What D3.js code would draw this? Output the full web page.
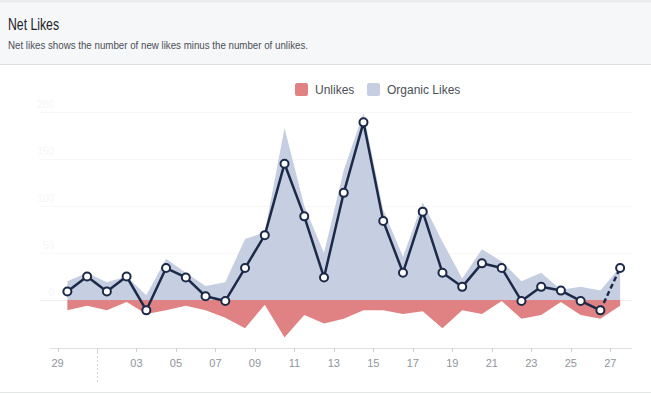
<!DOCTYPE html>
<html>
<head>
<meta charset="utf-8">
<script src="https://cdn.jsdelivr.net/npm/d3@7"></script>
<style>
  body { margin: 0; background: #fff; }
  svg { display: block; font-family: "Liberation Sans", Arial, sans-serif; }
</style>
</head>
<body>
<div id="chart"></div>
<script>
// one entry per day, 29 (prev month) .. 27
var days = ["29", "30", "01", "02", "03", "04", "05", "06", "07", "08", "09", "10", "11", "12", "13",
  "14", "15", "16", "17", "18", "19", "20", "21", "22", "23", "24", "25", "26", "27"];
var organicLikes = [20, 29, 19, 25, 5, 44, 29, 15, 19, 65, 72, 183, 100, 50, 138, 199, 96, 46, 104,
  62, 23, 54, 41, 20, 29, 11, 14, 10, 35];
var unlikes = [11, 6, 11, 2, 15, 11, 6, 11, 19, 30, 5, 40, 16, 25, 20, 11, 11, 15, 12, 30, 11, 15,
  1, 20, 16, 2, 16, 20, 6];
var netLikes = [9, 25, 9, 25, -11, 34, 24, 4, -1, 34, 69, 145, 89, 24, 114, 189, 84, 29, 94, 29, 14,
  39, 34, -1, 14, 10, -1, -11, 34];
var yTicks = [0, 50, 100, 150, 200];
var legendNames = ["Unlikes", "Organic Likes"];
var legendColors = ["#e08283", "#c6cee1"];

var W = 651, H = 394;
var svg = d3.select("#chart").append("svg").attr("width", W).attr("height", H);

// header panel
svg.append("rect").attr("x", 0).attr("y", 0).attr("width", W).attr("height", 64).style("fill", "#f6f7f9");
svg.append("rect").attr("x", 0).attr("y", 0).attr("width", W).attr("height", 2.5).style("fill", "#e9ebee");
svg.append("line").attr("x1", 0).attr("x2", W).attr("y1", 64.5).attr("y2", 64.5).style("stroke", "#dddfe2");
svg.append("text").attr("x", 8).attr("y", 30)
  .attr("textLength", 51).attr("lengthAdjust", "spacingAndGlyphs")
  .style("font-size", "16px").style("fill", "#1d2129").text("Net Likes");
svg.append("text").attr("x", 8).attr("y", 49)
  .attr("textLength", 300).attr("lengthAdjust", "spacingAndGlyphs")
  .style("font-size", "11.5px").style("fill", "#4b4f56")
  .text("Net likes shows the number of new likes minus the number of unlikes.");
svg.append("line").attr("x1", 0).attr("x2", W).attr("y1", 392.5).attr("y2", 392.5).style("stroke", "#e3e5e8");

var x = d3.scaleLinear().domain([0, days.length]).range([57.5, 630]);
var y = d3.scaleLinear().domain([-50, 200]).range([347, 112]);
var mid = function (i) { return x(i + 0.5); };

// faint grid + labels (almost invisible in the original)
svg.selectAll(".grid").data(yTicks).enter().append("line")
  .attr("x1", 40).attr("x2", 632)
  .attr("y1", function (d) { return Math.round(y(d)) + 0.5; })
  .attr("y2", function (d) { return Math.round(y(d)) + 0.5; })
  .style("stroke", function (d) { return d == 0 ? "#eceef1" : "#f8f8f9"; });
svg.selectAll(".ylab").data(yTicks).enter().append("text")
  .attr("x", 54).attr("y", function (d) { return y(d) - 4; })
  .attr("text-anchor", "end").style("font-size", "10px").style("fill", "#f6f6f7")
  .text(function (d) { return d; });

// areas
var organicArea = d3.area()
  .x(function (d, i) { return mid(i); })
  .y0(y(0))
  .y1(function (d) { return y(d); });
var unlikeArea = d3.area()
  .x(function (d, i) { return mid(i); })
  .y0(y(0))
  .y1(function (d) { return y(-d); });
svg.append("path").datum(organicLikes).attr("d", organicArea).style("fill", legendColors[1]);
svg.append("path").datum(unlikes).attr("d", unlikeArea).style("fill", legendColors[0]);

// x axis
var axis = svg.append("g").attr("transform", "translate(0,348)");
axis.append("line").attr("x1", 50).attr("x2", 632).attr("y1", 0.5).attr("y2", 0.5).style("stroke", "#dddfe2");
var tickIdx = [];
for (var i = 0; i < days.length; i += 2) tickIdx.push(i);
axis.selectAll(".tick").data(tickIdx).enter().append("line")
  .attr("x1", function (d) { return Math.round(x(d)) + 0.5; })
  .attr("x2", function (d) { return Math.round(x(d)) + 0.5; })
  .attr("y1", 0).attr("y2", 4).style("stroke", "#ccd0d5");
axis.selectAll(".lab").data(tickIdx.filter(function (d) { return days[d] != "01"; })).enter().append("text")
  .attr("x", function (d) { return x(d); }).attr("y", 19)
  .attr("text-anchor", "middle").style("font-size", "11px").style("fill", "#90949c")
  .text(function (d) { return days[d]; });
// month boundary marker
axis.append("line")
  .attr("x1", Math.round(x(2)) + 0.5).attr("x2", Math.round(x(2)) + 0.5)
  .attr("y1", 0).attr("y2", 34)
  .style("stroke", "#d3d6db").style("stroke-dasharray", "2,2");

// net likes line, last day dashed
var line = d3.line().x(function (d) { return mid(d.i); }).y(function (d) { return y(d.v); });
var pts = netLikes.map(function (v, i) { return { i: i, v: v }; });
svg.append("path").datum(pts.slice(0, pts.length - 1)).attr("d", line)
  .style("fill", "none").style("stroke", "#1c2a48").style("stroke-width", 2.5).style("stroke-linejoin", "round");
svg.append("path").datum(pts.slice(pts.length - 2)).attr("d", line)
  .style("fill", "none").style("stroke", "#1c2a48").style("stroke-width", 2.5).style("stroke-dasharray", "5,3");
svg.selectAll(".dot").data(pts).enter().append("circle")
  .attr("cx", function (d) { return mid(d.i); })
  .attr("cy", function (d) { return y(d.v); })
  .attr("r", 4).style("fill", "#fff").style("stroke", "#1c2a48").style("stroke-width", 2);

// legend
var legendX = [295, 367];
var lg = svg.selectAll(".legend").data(legendNames).enter().append("g")
  .attr("transform", function (d, i) { return "translate(" + legendX[i] + ",83)"; });
lg.append("rect").attr("width", 13).attr("height", 13).attr("rx", 2)
  .style("fill", function (d, i) { return legendColors[i]; });
lg.append("text").attr("x", 20).attr("y", 11).style("font-size", "12px").style("fill", "#4b4f56")
  .text(function (d) { return d; });
</script>
</body>
</html>
